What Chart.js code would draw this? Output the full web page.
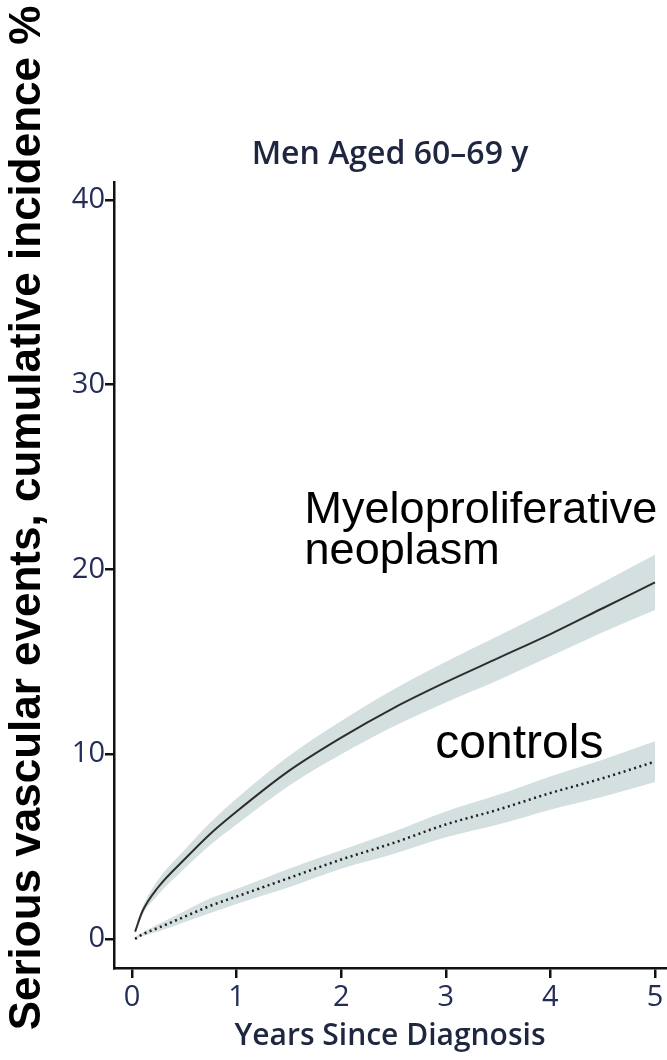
<!DOCTYPE html>
<html>
<head>
<meta charset="utf-8">
<script src="https://cdn.jsdelivr.net/npm/chart.js@4.4.1/dist/chart.umd.min.js"></script>
<style>
  html, body { margin: 0; padding: 0; background: #fff; }
  #wrap { width: 667px; height: 1060px; }
</style>
</head>
<body>
<div id="wrap"><canvas id="chart" width="667" height="1060"></canvas></div>
<script>
// valores
const years    = [0.03, 0.1, 0.25, 0.5, 0.75, 1, 1.5, 2, 2.5, 3, 3.5, 4, 4.5, 5];
const mpnMid   = [0.4, 1.5, 2.8, 4.3, 5.7, 6.9, 9.1, 10.9, 12.5, 13.9, 15.2, 16.5, 17.9, 19.3];
const mpnLow   = [0.3, 1.3, 2.4, 3.8, 5.1, 6.2, 8.3, 10.0, 11.5, 12.8, 14.0, 15.3, 16.6, 17.8];
const mpnHigh  = [0.5, 1.7, 3.2, 4.8, 6.3, 7.6, 9.9, 11.8, 13.5, 15.0, 16.4, 17.8, 19.3, 20.8];
const ctrlMid  = [0.0, 0.25, 0.6, 1.2, 1.8, 2.3, 3.3, 4.3, 5.2, 6.2, 7.0, 7.9, 8.7, 9.6];
const ctrlLow  = [0.0, 0.15, 0.4, 0.9, 1.4, 1.9, 2.8, 3.8, 4.6, 5.5, 6.2, 7.0, 7.7, 8.5];
const ctrlHigh = [0.1, 0.35, 0.8, 1.5, 2.2, 2.7, 3.8, 4.8, 5.8, 6.9, 7.8, 8.8, 9.7, 10.7];
const xTicks = [0, 1, 2, 3, 4, 5];
const yTicks = [0, 10, 20, 30, 40];

const bandColor = '#d4dfe0';
const tickColor = '#242d58';

function pts(ys) {
    return years.map((x, i) => ({ x: x, y: ys[i] }));
}

// textos soltos: título do eixo y e rótulos das curvas
const labelsPlugin = {
    id: 'labels',
    afterDraw(chart) {
        const ctx = chart.ctx;
        const xs = chart.scales.x;
        const ys = chart.scales.y;
        ctx.save();
        ctx.fillStyle = '#000';
        ctx.font = 'bold 44px "Liberation Sans", Arial, sans-serif';
        ctx.textAlign = 'center';
        ctx.textBaseline = 'alphabetic';
        ctx.translate(40, 518);
        ctx.rotate(-Math.PI / 2);
        ctx.fillText('Serious vascular events, cumulative incidence %', 0, 0);
        ctx.restore();

        ctx.save();
        ctx.fillStyle = '#000';
        ctx.font = '45px "Liberation Sans", Arial, sans-serif';
        ctx.textAlign = 'left';
        ctx.textBaseline = 'alphabetic';
        ctx.fillText('Myeloproliferative', xs.getPixelForValue(1.65), ys.getPixelForValue(22.5));
        ctx.fillText('neoplasm', xs.getPixelForValue(1.65), ys.getPixelForValue(20.3));
        ctx.font = '48px "Liberation Sans", Arial, sans-serif';
        ctx.fillText('controls', xs.getPixelForValue(2.9), ys.getPixelForValue(9.8));
        ctx.restore();
    }
};

const ctx = document.getElementById('chart').getContext('2d');
const chart = new Chart(ctx, {
    type: 'line',
    data: {
        datasets: [
            {
                data: pts(mpnMid),
                borderColor: '#2e2e2e',
                borderWidth: 2,
                pointRadius: 0,
                cubicInterpolationMode: 'monotone',
                fill: false
            },
            {
                data: pts(ctrlMid),
                borderColor: '#1e1e1e',
                borderWidth: 2.5,
                borderDash: [2, 3.5],
                pointRadius: 0,
                cubicInterpolationMode: 'monotone',
                fill: false
            },
            {
                data: pts(mpnLow),
                borderWidth: 0,
                borderColor: 'rgba(0,0,0,0)',
                pointRadius: 0,
                cubicInterpolationMode: 'monotone',
                fill: false
            },
            {
                data: pts(mpnHigh),
                borderWidth: 0,
                borderColor: 'rgba(0,0,0,0)',
                backgroundColor: bandColor,
                pointRadius: 0,
                cubicInterpolationMode: 'monotone',
                fill: '-1'
            },
            {
                data: pts(ctrlLow),
                borderWidth: 0,
                borderColor: 'rgba(0,0,0,0)',
                pointRadius: 0,
                cubicInterpolationMode: 'monotone',
                fill: false
            },
            {
                data: pts(ctrlHigh),
                borderWidth: 0,
                borderColor: 'rgba(0,0,0,0)',
                backgroundColor: bandColor,
                pointRadius: 0,
                cubicInterpolationMode: 'monotone',
                fill: '-1'
            }
        ]
    },
    options: {
        responsive: false,
        animation: false,
        layout: { padding: { left: 0, right: 1, top: 0, bottom: 0 } },
        plugins: {
            legend: { display: false },
            tooltip: { enabled: false },
            title: {
                display: true,
                text: 'Men Aged 60–69 y',
                fullSize: false,
                color: '#1f2640',
                font: { family: '"Open Sans", sans-serif', size: 32, weight: '600' },
                padding: { top: 136, bottom: 7.6 }
            }
        },
        scales: {
            x: {
                type: 'linear',
                min: -0.172,
                max: 5.105,
                afterBuildTicks: (scale) => { scale.ticks = xTicks.map(v => ({ value: v })); },
                afterFit: (scale) => { scale.height = 92; },
                border: { display: true, color: '#111', width: 2.5 },
                grid: { display: true, drawOnChartArea: false, drawTicks: true, tickLength: 10, color: '#111', lineWidth: 2.5 },
                ticks: {
                    color: tickColor,
                    padding: 2,
                    maxRotation: 0,
                    font: { family: '"Open Sans", sans-serif', size: 29, weight: '400' }
                },
                title: {
                    display: true,
                    text: 'Years Since Diagnosis',
                    color: '#1f2640',
                    font: { family: '"Open Sans", sans-serif', size: 30, weight: '600' },
                    padding: { top: 0, bottom: 6 }
                }
            },
            y: {
                min: -1.57,
                max: 40.97,
                afterBuildTicks: (scale) => { scale.ticks = yTicks.map(v => ({ value: v })); },
                afterFit: (scale) => { scale.width = 114; },
                border: { display: true, color: '#111', width: 2.5 },
                grid: { display: true, drawOnChartArea: false, drawTicks: true, tickLength: 9, color: '#111', lineWidth: 2.5 },
                ticks: {
                    color: tickColor,
                    padding: 0,
                    font: { family: '"Open Sans", sans-serif', size: 29, weight: '400' }
                }
            }
        }
    },
    plugins: [labelsPlugin]
});
</script>
</body>
</html>
